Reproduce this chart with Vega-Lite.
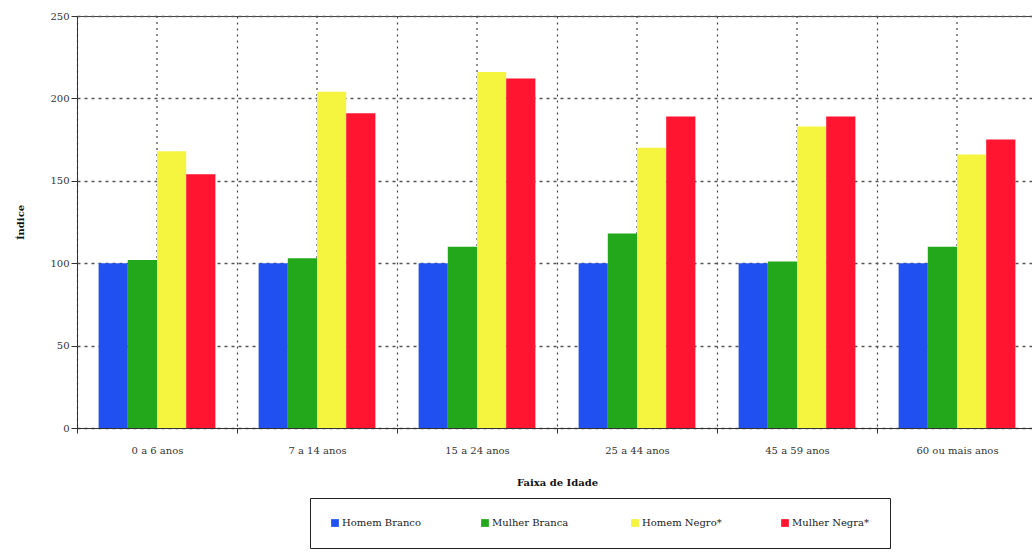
{
  "$schema": "https://vega.github.io/schema/vega-lite/v6.json",
  "autosize": {"type": "none"},
  "padding": {"left": 77, "top": 16, "right": 0, "bottom": 125},
  "width": 960,
  "height": 412,
  "config": {
    "font": "DejaVu Serif",
    "view": {"stroke": "#444", "strokeWidth": 1},
    "axis": {"labelFont": "DejaVu Serif", "titleFont": "DejaVu Serif", "labelFontSize": 10, "labelColor": "#333", "titleColor": "#111"}
  },
  "data": {
    "values": [
      {"faixa": "0 a 6 anos", "grupo": "Homem Branco", "indice": 100},
      {"faixa": "0 a 6 anos", "grupo": "Mulher Branca", "indice": 102},
      {"faixa": "0 a 6 anos", "grupo": "Homem Negro*", "indice": 168},
      {"faixa": "0 a 6 anos", "grupo": "Mulher Negra*", "indice": 154},
      {"faixa": "7 a 14 anos", "grupo": "Homem Branco", "indice": 100},
      {"faixa": "7 a 14 anos", "grupo": "Mulher Branca", "indice": 103},
      {"faixa": "7 a 14 anos", "grupo": "Homem Negro*", "indice": 204},
      {"faixa": "7 a 14 anos", "grupo": "Mulher Negra*", "indice": 191},
      {"faixa": "15 a 24 anos", "grupo": "Homem Branco", "indice": 100},
      {"faixa": "15 a 24 anos", "grupo": "Mulher Branca", "indice": 110},
      {"faixa": "15 a 24 anos", "grupo": "Homem Negro*", "indice": 216},
      {"faixa": "15 a 24 anos", "grupo": "Mulher Negra*", "indice": 212},
      {"faixa": "25 a 44 anos", "grupo": "Homem Branco", "indice": 100},
      {"faixa": "25 a 44 anos", "grupo": "Mulher Branca", "indice": 118},
      {"faixa": "25 a 44 anos", "grupo": "Homem Negro*", "indice": 170},
      {"faixa": "25 a 44 anos", "grupo": "Mulher Negra*", "indice": 189},
      {"faixa": "45 a 59 anos", "grupo": "Homem Branco", "indice": 100},
      {"faixa": "45 a 59 anos", "grupo": "Mulher Branca", "indice": 101},
      {"faixa": "45 a 59 anos", "grupo": "Homem Negro*", "indice": 183},
      {"faixa": "45 a 59 anos", "grupo": "Mulher Negra*", "indice": 189},
      {"faixa": "60 ou mais anos", "grupo": "Homem Branco", "indice": 100},
      {"faixa": "60 ou mais anos", "grupo": "Mulher Branca", "indice": 110},
      {"faixa": "60 ou mais anos", "grupo": "Homem Negro*", "indice": 166},
      {"faixa": "60 ou mais anos", "grupo": "Mulher Negra*", "indice": 175}
    ]
  },
  "encoding": {
    "x": {
      "field": "faixa", "type": "nominal", "sort": null,
      "scale": {"paddingInner": 0, "paddingOuter": 0},
      "axis": {
        "title": "Faixa de Idade", "titleFontWeight": "bold", "titleFontSize": 10,
        "labelAngle": 0, "labelPadding": 12, "titlePadding": 22,
        "tickBand": "extent", "tickSize": 5, "tickColor": "#333",
        "domainColor": "#333",
        "grid": true, "gridDash": [2, 4], "gridColor": "#444", "gridWidth": 1.2
      }
    }
  },
  "layer": [
    {
      "transform": [{"filter": "datum.grupo == 'Homem Branco'"}],
      "mark": {"type": "rule", "strokeDash": [2, 4], "color": "#444", "strokeWidth": 1.2},
      "encoding": {}
    },
    {
      "mark": {"type": "bar"},
      "encoding": {
        "xOffset": {"field": "grupo", "type": "nominal", "sort": ["Homem Branco", "Mulher Branca", "Homem Negro*", "Mulher Negra*"], "scale": {"paddingInner": 0, "paddingOuter": 0.74}},
        "y": {
          "field": "indice", "type": "quantitative",
          "scale": {"domain": [0, 250]},
          "axis": {
            "title": "Índice", "titleFontWeight": "bold", "titleFontSize": 10, "titlePadding": 24,
            "values": [0, 50, 100, 150, 200, 250], "tickSize": 6, "tickColor": "#333", "domainColor": "#333",
            "grid": true, "gridDash": [3, 4], "gridColor": "#555", "gridWidth": 1.5
          }
        },
        "color": {
          "field": "grupo", "type": "nominal",
          "scale": {"domain": ["Homem Branco", "Mulher Branca", "Homem Negro*", "Mulher Negra*"], "range": ["#2050f0", "#22a81a", "#f5f540", "#ff1530"]},
          "legend": {
            "title": null, "orient": "none", "legendX": 233, "legendY": 482,
            "direction": "horizontal", "columns": 4, "gridAlign": "all", "columnPadding": 58,
            "symbolType": "square", "symbolSize": 60, "symbolStrokeWidth": 0, "symbolOpacity": 1,
            "labelFont": "DejaVu Serif", "labelFontSize": 10, "labelColor": "#222", "labelOffset": 2,
            "strokeColor": "#222", "padding": 20, "fillColor": "white"
          }
        }
      }
    }
  ]
}
